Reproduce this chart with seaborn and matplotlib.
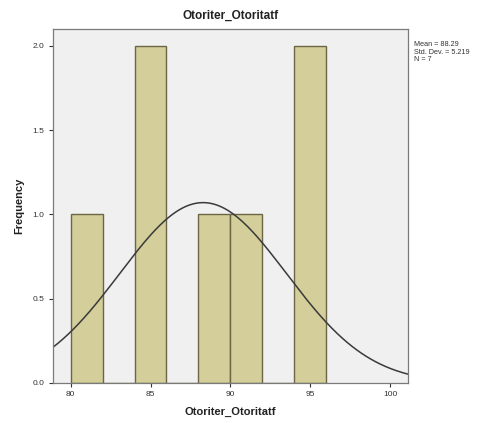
import numpy as np
import pandas as pd
import matplotlib
matplotlib.use("Agg")
import matplotlib.pyplot as plt
import seaborn as sns

# Histogram bins (width 2) and their frequencies
bin_edges = [80, 82, 84, 86, 88, 90, 92, 94, 96]
counts = [1, 0, 2, 0, 1, 1, 0, 2]

# Summary statistics for the fitted normal curve
mean_val = 88.29
std_val = 5.219
n_val = 7

x_ticks = [80, 85, 90, 95, 100]
y_ticks = [0.0, 0.5, 1.0, 1.5, 2.0]
var_name = "Otoriter_Otoritatf"

sns.set_theme(style="white")
plt.rcParams["font.family"] = ["Liberation Sans", "DejaVu Sans"]

centers = [(a + b) / 2 for a, b in zip(bin_edges[:-1], bin_edges[1:])]
df = pd.DataFrame({"value": centers, "count": counts})

fig = plt.figure(figsize=(4.89, 4.23), dpi=100)
ax = fig.add_axes([0.1084, 0.0946, 0.7256, 0.8368])
ax.set_facecolor("#F0F0F0")

sns.histplot(data=df, x="value", weights="count", bins=bin_edges,
             color="#D3CE9A", edgecolor="#6B6645", linewidth=1.0,
             alpha=1.0, ax=ax)

# Normal curve scaled to the histogram: N * bin width * pdf
width = bin_edges[1] - bin_edges[0]
xs = np.linspace(78.9, 101.1, 300)
ys = n_val * width / (std_val * np.sqrt(2 * np.pi)) * np.exp(-0.5 * ((xs - mean_val) / std_val) ** 2)
sns.lineplot(x=xs, y=ys, color="#3A3A3A", linewidth=1.1, ax=ax)

ax.set_xlim(78.9, 101.1)
ax.set_ylim(0, 2.1)
ax.set_xticks(x_ticks)
ax.set_xticklabels([str(t) for t in x_ticks])
ax.set_yticks(y_ticks)
ax.set_yticklabels([f"{t:.1f}" for t in y_ticks])
ax.tick_params(axis="both", which="major", labelsize=6, colors="#333333",
               direction="out", length=3, width=0.8, bottom=True, left=True, pad=3)

for sp in ax.spines.values():
    sp.set_color("#7A7A7A")
    sp.set_linewidth(0.9)

ax.set_xlabel(var_name, fontsize=8, fontweight="bold", color="#222222", labelpad=6)
ax.set_ylabel("Frequency", fontsize=8, fontweight="bold", color="#222222", labelpad=6)
ax.set_title(var_name, fontsize=8.5, fontweight="bold", color="#222222", pad=7)

fig.text(0.847, 0.902,
         f"Mean = {mean_val:.2f}\nStd. Dev. = {std_val:.3f}\nN = {n_val}",
         fontsize=5.2, color="#333333", va="top", ha="left", linespacing=1.1)

fig.savefig("out.png", dpi=100, facecolor="white")
